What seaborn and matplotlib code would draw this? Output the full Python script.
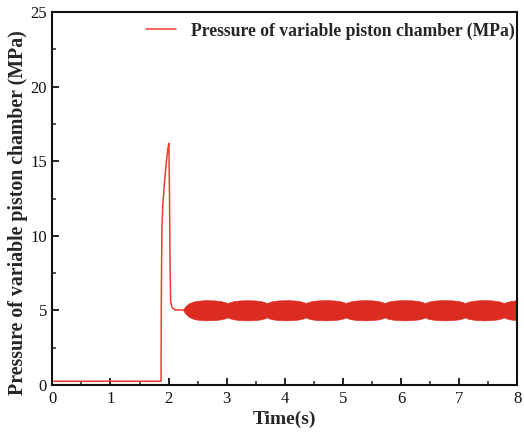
import matplotlib
matplotlib.use("Agg")
import matplotlib.pyplot as plt
from matplotlib.ticker import MultipleLocator
import seaborn as sns
import pandas as pd

# Main pressure trace (s, MPa)
time_s = [0.0, 1.87, 1.875, 1.885, 1.90, 1.93, 1.96, 1.99, 2.005, 2.015,
          2.025, 2.035, 2.06, 2.11, 2.25]
pressure_mpa = [0.25, 0.25, 6.0, 10.5, 12.0, 13.6, 14.9, 15.9, 16.2, 13.0,
                8.0, 5.6, 5.2, 5.03, 5.03]

# Envelope of the fast oscillation band (s, MPa)
band_t = [2.25, 2.29, 2.35, 2.45, 2.62, 2.80, 2.90, 2.97, 3.02,
          3.06, 3.12, 3.22, 3.355, 3.49, 3.59, 3.65, 3.69,
          3.73, 3.79, 3.89, 4.025, 4.16, 4.26, 4.32, 4.36,
          4.40, 4.46, 4.56, 4.705, 4.85, 4.95, 5.01, 5.05,
          5.09, 5.15, 5.25, 5.385, 5.52, 5.62, 5.68, 5.72,
          5.76, 5.82, 5.92, 6.065, 6.21, 6.31, 6.37, 6.41,
          6.45, 6.51, 6.61, 6.755, 6.90, 7.00, 7.06, 7.10,
          7.14, 7.20, 7.30, 7.435, 7.57, 7.67, 7.73, 7.77,
          7.81, 7.87, 7.97, 8.00]
band_upper = [5.06, 5.28, 5.48, 5.62, 5.69, 5.67, 5.62, 5.56, 5.49,
              5.56, 5.62, 5.67, 5.69, 5.67, 5.62, 5.56, 5.49,
              5.56, 5.62, 5.67, 5.69, 5.67, 5.62, 5.56, 5.49,
              5.56, 5.62, 5.67, 5.69, 5.67, 5.62, 5.56, 5.49,
              5.56, 5.62, 5.67, 5.69, 5.67, 5.62, 5.56, 5.49,
              5.56, 5.62, 5.67, 5.69, 5.67, 5.62, 5.56, 5.49,
              5.56, 5.62, 5.67, 5.69, 5.67, 5.62, 5.56, 5.49,
              5.56, 5.62, 5.67, 5.69, 5.67, 5.62, 5.56, 5.49,
              5.56, 5.62, 5.67, 5.68]
band_lower = [5.00, 4.78, 4.56, 4.40, 4.33, 4.35, 4.40, 4.46, 4.53,
              4.46, 4.40, 4.35, 4.33, 4.35, 4.40, 4.46, 4.53,
              4.46, 4.40, 4.35, 4.33, 4.35, 4.40, 4.46, 4.53,
              4.46, 4.40, 4.35, 4.33, 4.35, 4.40, 4.46, 4.53,
              4.46, 4.40, 4.35, 4.33, 4.35, 4.40, 4.46, 4.53,
              4.46, 4.40, 4.35, 4.33, 4.35, 4.40, 4.46, 4.53,
              4.46, 4.40, 4.35, 4.33, 4.35, 4.40, 4.46, 4.53,
              4.46, 4.40, 4.35, 4.33, 4.35, 4.40, 4.46, 4.53,
              4.46, 4.40, 4.35, 4.34]

x_ticks = [0, 1, 2, 3, 4, 5, 6, 7, 8]
y_ticks = [0, 5, 10, 15, 20, 25]
series_label = "Pressure of variable piston chamber (MPa)"

sns.set_theme(style="white")
plt.rcParams["font.family"] = ["Liberation Serif", "DejaVu Serif"]

fig = plt.figure(figsize=(5.24, 4.34), dpi=100)
ax = fig.add_axes([0.100, 0.113, 0.887, 0.859])

df = pd.DataFrame({"t": time_s, "p": pressure_mpa})
line_color = "#f03a32"
band_color = "#dc2b20"
sns.lineplot(data=df, x="t", y="p", ax=ax, color=line_color, lw=1.1,
             label=series_label, sort=False, estimator=None)
ax.fill_between(band_t, band_lower, band_upper, color=band_color, lw=0.4,
                edgecolor=band_color)

ax.set_xlim(0, 8)
ax.set_ylim(0, 25)
ax.set_xticks(x_ticks)
ax.set_yticks(y_ticks)
ax.xaxis.set_minor_locator(MultipleLocator(0.5))
ax.yaxis.set_minor_locator(MultipleLocator(2.5))
ax.tick_params(axis="both", which="major", direction="in", length=5, width=1.3,
               labelsize=12, colors="#111111", bottom=True, left=True,
               top=False, right=False, pad=4)
ax.tick_params(axis="both", which="minor", direction="in", length=3, width=1.1,
               bottom=True, left=True, top=False, right=False)
for s in ax.spines.values():
    s.set_visible(True)
    s.set_linewidth(1.5)
    s.set_color("#111111")

ax.set_xlabel("Time(s)", fontsize=14, fontweight="bold", labelpad=3)
ax.set_ylabel(series_label, fontsize=14.3, fontweight="bold")
ax.yaxis.set_label_coords(-0.053, 0.461)

leg = ax.legend(loc="upper right", bbox_to_anchor=(1.0, 0.98), frameon=False,
                prop={"family": "Liberation Serif", "weight": "bold", "size": 12.7},
                handlelength=1.7, handletextpad=0.85, borderaxespad=0.0,
                borderpad=0.15)

fig.savefig("out.png", dpi=100)
